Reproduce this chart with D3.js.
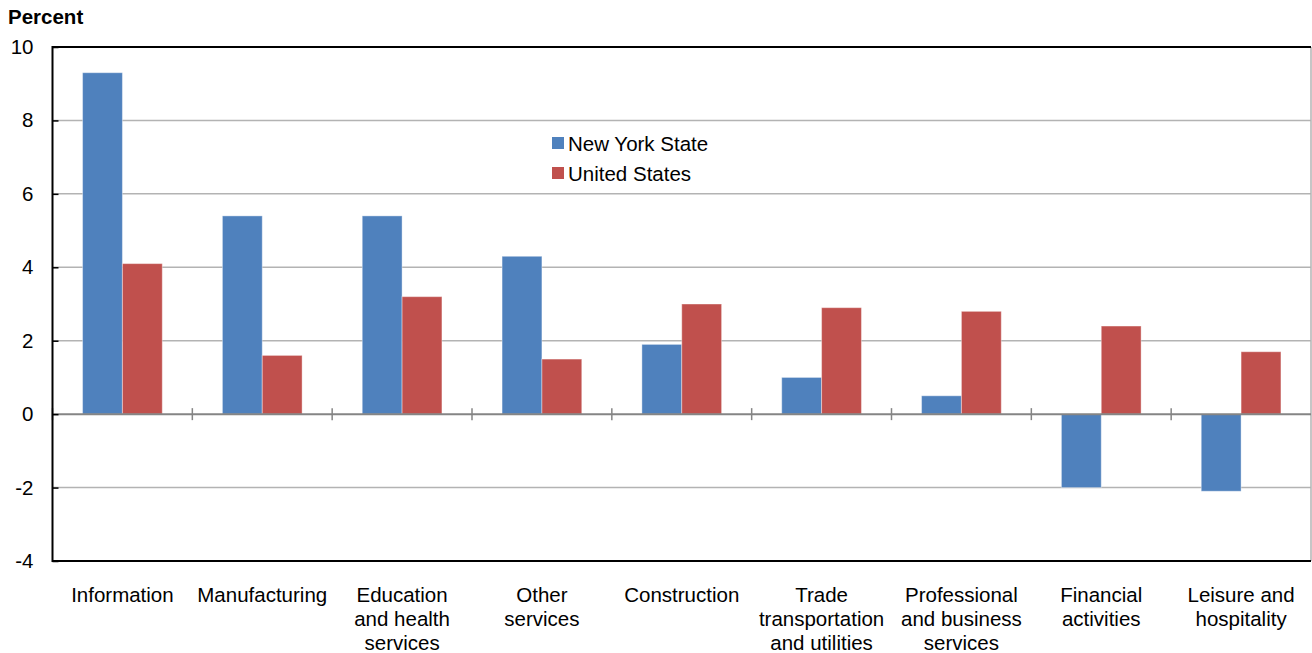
<!DOCTYPE html>
<html>
<head>
<meta charset="utf-8">
<script src="https://cdn.jsdelivr.net/npm/d3@7"></script>
<style>
  body { margin: 0; background: #fff; }
  svg { font-family: "Liberation Sans", Arial, sans-serif; }
</style>
</head>
<body>
<svg class="chart"></svg>
<script>
// data
var categories = [
  ["Information"],
  ["Manufacturing"],
  ["Education", "and health", "services"],
  ["Other", "services"],
  ["Construction"],
  ["Trade", "transportation", "and utilities"],
  ["Professional", "and business", "services"],
  ["Financial", "activities"],
  ["Leisure and", "hospitality"]
];
var seriesNames = ["New York State", "United States"];
var nyValues = [9.3, 5.4, 5.4, 4.3, 1.9, 1.0, 0.5, -2.0, -2.1];
var usValues = [4.1, 1.6, 3.2, 1.5, 3.0, 2.9, 2.8, 2.4, 1.7];
var yTicks = [-4, -2, 0, 2, 4, 6, 8, 10];
var colors = ["#4F81BD", "#C0504D"];

var width = 1312, height = 653;
var plotLeft = 52.5, plotRight = 1311, plotTop = 47, plotBottom = 561;
var fontSize = 20.5;

var svg = d3.select(".chart")
  .attr("width", width)
  .attr("height", height);

var x = d3.scaleBand()
  .domain(d3.range(categories.length))
  .range([plotLeft, plotRight])
  .paddingInner(0.43)
  .paddingOuter(0.215);

var xBand = d3.scaleBand()
  .domain(d3.range(categories.length))
  .range([plotLeft, plotRight]);

var xSub = d3.scaleBand()
  .domain([0, 1])
  .range([0, x.bandwidth()]);

var y = d3.scaleLinear()
  .domain([-4, 10])
  .range([plotBottom, plotTop]);

// gridlines
svg.append("g")
  .selectAll("line")
  .data(yTicks.filter(function(d) { return d != 0 && d != -4 && d != 10; }))
  .enter()
  .append("line")
    .attr("x1", plotLeft)
    .attr("x2", plotRight)
    .attr("y1", function(d) { return y(d); })
    .attr("y2", function(d) { return y(d); })
    .attr("stroke", "#b3b3b3")
    .attr("stroke-width", 1.5);

// right border
svg.append("line")
  .attr("x1", plotRight).attr("x2", plotRight)
  .attr("y1", plotTop).attr("y2", plotBottom)
  .attr("stroke", "#b3b3b3")
  .attr("stroke-width", 1.5);

// bars
var rows = categories.map(function(c, i) { return [nyValues[i], usValues[i]]; });

var groups = svg.append("g")
  .selectAll("g")
  .data(rows)
  .enter()
  .append("g")
    .attr("transform", function(d, i) { return "translate(" + x(i) + ",0)"; });

groups.selectAll("rect")
  .data(function(d) { return d; })
  .enter()
  .append("rect")
    .attr("x", function(d, j) { return xSub(j); })
    .attr("width", xSub.bandwidth())
    .attr("y", function(d) { return y(Math.max(0, d)); })
    .attr("height", function(d) { return Math.abs(y(d) - y(0)); })
    .attr("fill", function(d, j) { return colors[j]; })
    .attr("stroke", "#fff")
    .attr("stroke-opacity", 0.4)
    .attr("stroke-width", 1);

// zero line with category ticks
svg.append("line")
  .attr("x1", plotLeft).attr("x2", plotRight)
  .attr("y1", y(0)).attr("y2", y(0))
  .attr("stroke", "#858585")
  .attr("stroke-width", 2);

svg.append("g")
  .selectAll("line")
  .data(d3.range(categories.length))
  .enter()
  .append("line")
    .attr("x1", function(i) { return xBand(i); })
    .attr("x2", function(i) { return xBand(i); })
    .attr("y1", y(0) - 6)
    .attr("y2", y(0) + 6)
    .attr("stroke", "#858585")
    .attr("stroke-width", 1.5);

// frame: left axis, top and bottom
svg.append("path")
  .attr("d", "M" + plotRight + "," + plotTop + "H" + plotLeft + "V" + plotBottom + "H" + plotRight)
  .attr("fill", "none")
  .attr("stroke", "#000")
  .attr("stroke-width", 2);

// y axis
var yAxis = d3.axisLeft(y)
  .tickValues(yTicks)
  .tickFormat(function(d) { return String(d); })
  .tickSize(-6)
  .tickPadding(19);

var yg = svg.append("g")
  .attr("transform", "translate(" + plotLeft + ",0)")
  .call(yAxis);
yg.select(".domain").remove();
yg.selectAll(".tick line").attr("stroke", "#000").attr("stroke-width", 1.5);
yg.selectAll(".tick text")
  .attr("font-size", fontSize)
  .attr("fill", "#000")
  .attr("font-family", "Liberation Sans, Arial, sans-serif");

// category labels
var labels = svg.append("g")
  .selectAll("text")
  .data(categories)
  .enter()
  .append("text")
    .attr("x", function(d, i) { return xBand(i) + xBand.bandwidth() / 2; })
    .attr("y", 602)
    .attr("text-anchor", "middle")
    .attr("font-size", fontSize)
    .attr("fill", "#000");

labels.selectAll("tspan")
  .data(function(d) { return d; })
  .enter()
  .append("tspan")
    .attr("x", function() { return d3.select(this.parentNode).attr("x"); })
    .attr("dy", function(d, j) { return j == 0 ? 0 : 24; })
    .text(function(d) { return d; });

// axis title
svg.append("text")
  .attr("x", 8)
  .attr("y", 24)
  .attr("font-size", fontSize)
  .attr("font-weight", "bold")
  .text("Percent");

// legend
var legend = svg.append("g")
  .selectAll("g")
  .data(seriesNames)
  .enter()
  .append("g")
    .attr("transform", function(d, i) { return "translate(552," + (137 + i * 30) + ")"; });

legend.append("rect")
  .attr("width", 12)
  .attr("height", 12)
  .attr("fill", function(d, i) { return colors[i]; });

legend.append("text")
  .attr("x", 16)
  .attr("y", 14)
  .attr("font-size", fontSize)
  .text(function(d) { return d; });
</script>
</body>
</html>
